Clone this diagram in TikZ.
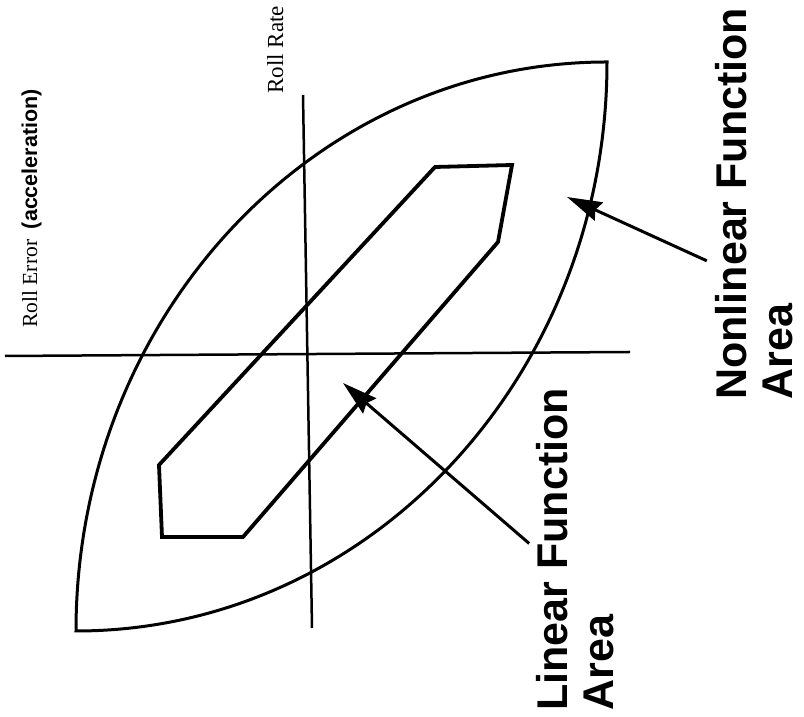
\documentclass[tikz,border=0pt]{standalone}
\usepackage{fontspec}
\setmainfont{Liberation Serif}
\newfontfamily\areafont{Liberation Sans}
\usetikzlibrary{arrows.meta,calc}
\tikzset{every picture/.style={line width=0.75pt}}

\begin{document}
\begin{tikzpicture}[x=1pt,y=1pt,
    arealbl/.style={rotate=90,anchor=north west,inner sep=0pt,align=left,
      font=\areafont\bfseries\fontsize{43}{46}\selectfont},
    axislbl/.style={rotate=90,anchor=base west,inner sep=0pt},
    pointer/.style={line width=3pt,shorten <=9pt,-{Stealth[length=35pt,width=20pt,inset=4pt]}}]
    \useasboundingbox (0,0) rectangle (804,717);

    % Outer boundary
    \draw[line width=3pt] (76,86) arc[start angle=180,end angle=90,x radius=531,y radius=569]
        arc[start angle=0,end angle=-90,x radius=531,y radius=569] -- cycle;

    % Axes
    \draw[line width=2.5pt] (5,361) -- (630,365);
    \draw[line width=2.5pt] (303,622) -- (312,89);

    % Linear area
    \draw[line width=3.8pt] (435,550) -- (512,552) -- (498,475) -- (243,180)
        -- (162,180) -- (159,252) -- cycle;

    % Labels
    \node[axislbl,font=\fontsize{21.5}{24}\selectfont] (errlbl) at (37,389)
        {Roll Error\ \ {\areafont\bfseries\fontsize{21.5}{24}\selectfont(acceleration)}};
    \node[axislbl,font=\fontsize{23}{26}\selectfont] (ratelbl) at (283,623) {Roll Rate};
    \node[arealbl] (linlbl) at (536,6) {Linear Function\\Area};
    \node[arealbl] (nonlbl) at (715,317) {Nonlinear Function\\Area};

    % Pointers
    \coordinate (lintip) at (343,334);
    \coordinate (nontip) at (567,520);
    \draw[pointer] (linlbl.north) -- (lintip);
    \draw[pointer] ($(nonlbl.north)!0.31!(nonlbl.north west)$) -- (nontip);
\end{tikzpicture}
\end{document}
